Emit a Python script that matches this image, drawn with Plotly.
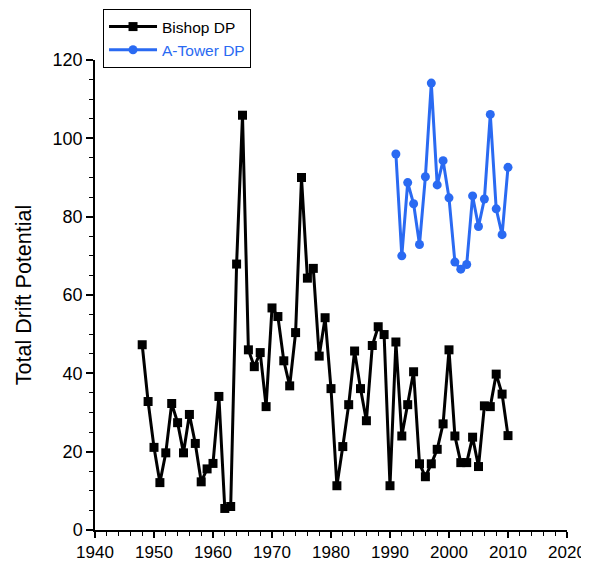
import plotly.graph_objects as go

bishop_years = list(range(1948, 2011))
bishop_dp = [47.3, 32.8, 21.1, 12.1, 19.7, 32.3, 27.4, 19.7, 29.5, 22.1,
             12.3, 15.6, 17.0, 34.1, 5.5, 6.0, 67.9, 105.9, 46.0, 41.7,
             45.3, 31.5, 56.7, 54.5, 43.2, 36.8, 50.4, 90.0, 64.3, 66.8,
             44.4, 54.2, 36.1, 11.3, 21.3, 32.0, 45.7, 36.1, 27.9, 47.1,
             51.9, 49.9, 11.3, 48.0, 24.0, 32.0, 40.4, 16.9, 13.6, 16.9,
             20.6, 27.1, 46.0, 24.0, 17.2, 17.2, 23.7, 16.2, 31.7, 31.5,
             39.8, 34.7, 24.1]

atower_years = list(range(1991, 2011))
atower_dp = [96.0, 70.0, 88.7, 83.3, 72.9, 90.2, 114.1, 88.1, 94.3, 84.8,
             68.4, 66.6, 67.8, 85.3, 77.5, 84.5, 106.1, 82.0, 75.4, 92.6]

x_ticks = list(range(1940, 2021, 10))
y_ticks = list(range(0, 121, 20))

blue = "#2a6af2"

fig = go.Figure()
fig.add_trace(go.Scatter(
    x=bishop_years, y=bishop_dp, mode="lines+markers", name="Bishop DP",
    line=dict(color="black", width=3),
    marker=dict(symbol="square", size=9, color="black"),
))
fig.add_trace(go.Scatter(
    x=atower_years, y=atower_dp, mode="lines+markers",
    name='<span style="color:%s">A-Tower DP</span>' % blue,
    line=dict(color=blue, width=3),
    marker=dict(symbol="circle", size=9, color=blue),
))

# page body has an 8px margin, so the figure is slightly smaller than the window
fig.update_layout(
    width=581, height=554,
    margin=dict(l=87, r=22, t=52, b=32, autoexpand=False),
    paper_bgcolor="white", plot_bgcolor="white",
    font=dict(family="Liberation Sans, Arial, sans-serif", size=15, color="black"),
    showlegend=True,
    legend=dict(
        x=0.017, y=1.1085, xanchor="left", yanchor="top",
        bordercolor="black", borderwidth=1, bgcolor="white",
        font=dict(size=15.5), tracegroupgap=0,
        itemwidth=48,
    ),
)
fig.update_xaxes(
    range=[1940, 2020], tickvals=x_ticks,
    showline=True, linecolor="black", linewidth=1.5,
    ticks="outside", ticklen=6, tickcolor="black", tickwidth=1.5,
    minor=dict(dtick=2, ticks="outside", ticklen=4, tickcolor="black", tickwidth=1.2, showgrid=False),
    showgrid=False, zeroline=False,
    tickfont=dict(size=17),
)
fig.update_yaxes(
    range=[0, 120], tickvals=y_ticks,
    showline=True, linecolor="black", linewidth=1.5,
    ticks="outside", ticklen=7, tickcolor="black", tickwidth=1.5,
    minor=dict(dtick=5, ticks="outside", ticklen=4, tickcolor="black", tickwidth=1.2, showgrid=False),
    showgrid=False, zeroline=False,
    tickfont=dict(size=18),
    title=dict(text="Total Drift Potential", font=dict(size=21.5), standoff=15),
)

fig.write_html("out.html")
